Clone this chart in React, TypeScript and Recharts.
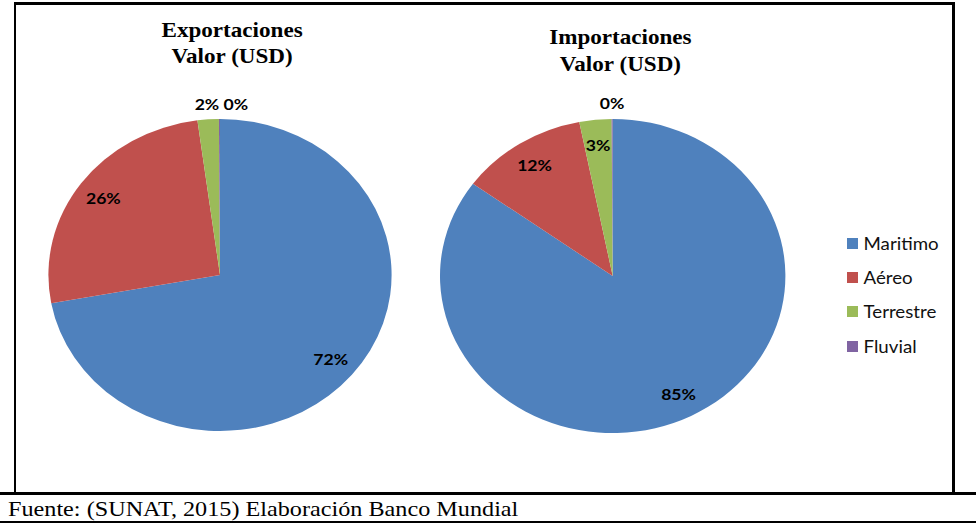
import { PieChart, Pie, Cell, Legend } from 'recharts';

const categories = ['Maritimo', 'Aéreo', 'Terrestre', 'Fluvial'];
const exportValues = [72.1, 25.8, 2.0, 0.1];
const importValues = [85.0, 11.9, 3.0, 0.1];
const colors = ['#4F81BD', '#C0504D', '#9BBB59', '#8064A2'];

const exportData = categories.map((name, i) => ({ name, value: exportValues[i] }));
const importData = categories.map((name, i) => ({ name, value: importValues[i] }));

// the reference is stretched horizontally, so the chart is drawn narrower and scaled
const SX = 1.1;
const W = 976 / SX;
const RADIAN = Math.PI / 180;

const makeLabel = (values: number[]) => {
  const total = values.reduce((a, b) => a + b, 0);
  const small = (i: number) => values[i] / total < 0.025;
  return (props: any) => {
    const { cx, cy, midAngle, outerRadius, percent, index } = props;
    const outside = small(index);
    const r = outside ? outerRadius * 1.1 : outerRadius * 0.84;
    let x = cx + r * Math.cos(-midAngle * RADIAN);
    const y = cy + r * Math.sin(-midAngle * RADIAN);
    // keep neighbouring outside labels from overlapping
    if (outside && index > 0 && small(index - 1)) x += 15;
    return (
      <text
        x={x}
        y={y}
        textAnchor="middle"
        dominantBaseline="central"
        fill="#000"
        style={{ fontFamily: 'Lato', fontWeight: 700, fontSize: 16 }}
      >
        {`${Math.round(percent * 100)}%`}
      </text>
    );
  };
};

const legendContent = () => (
  <div style={{ fontFamily: 'Lato', fontSize: 17, color: '#111' }}>
    {categories.map((c, i) => (
      <div key={c} style={{ display: 'flex', alignItems: 'center', height: 34.3 }}>
        <span style={{ display: 'inline-block', width: 10, height: 11, background: colors[i], marginRight: 5 }} />
        <span>{c}</span>
      </div>
    ))}
  </div>
);

const titleStyle = {
  position: 'absolute' as const,
  width: 220,
  textAlign: 'center' as const,
  fontFamily: '"Liberation Serif", "Times New Roman", serif',
  fontWeight: 700,
  fontSize: 21,
  color: '#000',
};

export default function App() {
  return (
    <div style={{ position: 'absolute', left: 0, top: 0, width: 976, height: 523, background: '#fff', overflow: 'hidden' }}>
      <div style={{ position: 'absolute', left: 0, top: 0, width: W, height: 490, transform: `scaleX(${SX})`, transformOrigin: '0 0' }}>
        <PieChart width={W} height={490} margin={{ top: 0, right: 0, bottom: 0, left: 0 }}>
          <Pie
            data={exportData}
            dataKey="value"
            nameKey="name"
            cx={200}
            cy={275}
            outerRadius={156}
            startAngle={90}
            endAngle={-270}
            stroke="none"
            labelLine={false}
            label={makeLabel(exportValues)}
            isAnimationActive={false}
          >
            {exportData.map((d, i) => (
              <Cell key={`exp-${i}`} fill={colors[i]} />
            ))}
          </Pie>
          <Pie
            data={importData}
            dataKey="value"
            nameKey="name"
            cx={557}
            cy={276}
            outerRadius={157}
            startAngle={90}
            endAngle={-270}
            stroke="none"
            labelLine={false}
            label={makeLabel(importValues)}
            isAnimationActive={false}
          >
            {importData.map((d, i) => (
              <Cell key={`imp-${i}`} fill={colors[i]} />
            ))}
          </Pie>
          <Legend
            content={legendContent}
            wrapperStyle={{ position: 'absolute', left: 770, top: 226, width: 110, bottom: 'auto' }}
          />
        </PieChart>
        <div style={{ ...titleStyle, left: 211 - 110, top: 17, lineHeight: '26px' }}>
          Exportaciones
          <br />
          Valor (USD)
        </div>
        <div style={{ ...titleStyle, left: 564 - 110, top: 24, lineHeight: '27px' }}>
          Importaciones
          <br />
          Valor (USD)
        </div>
      </div>
      {/* frame */}
      <div style={{ position: 'absolute', left: 14, top: 2, width: 955 - 14, height: 492, borderLeft: '2.5px solid #000', borderTop: '3px solid #000', borderRight: '3px solid #000', boxSizing: 'border-box' }} />
      <div style={{ position: 'absolute', left: 0, top: 492, width: 976, height: 2.5, background: '#000' }} />
      <div
        style={{
          position: 'absolute',
          left: 8,
          top: 496,
          fontFamily: '"Liberation Serif", "Times New Roman", serif',
          fontSize: 22,
          lineHeight: '25px',
          color: '#000',
          whiteSpace: 'nowrap',
          transform: `scaleX(${SX})`,
          transformOrigin: '0 0',
        }}
      >
        Fuente: (SUNAT, 2015) Elaboración Banco Mundial
      </div>
      <div style={{ position: 'absolute', left: 0, top: 521, width: 976, height: 1.5, background: '#000' }} />
    </div>
  );
}
